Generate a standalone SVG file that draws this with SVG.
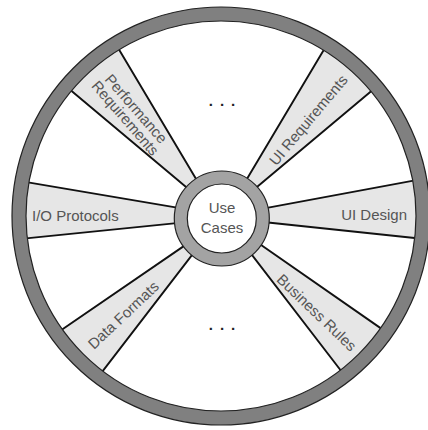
<svg xmlns="http://www.w3.org/2000/svg" width="428" height="430" viewBox="0 0 428 430">
<style>
.spoke{fill:#e6e6e6;stroke:#111;stroke-width:1.9;stroke-linejoin:round}
.lbl{font-family:"Liberation Sans",Arial,sans-serif;font-size:15px;fill:#555}
.edge{fill:none;stroke:#222;stroke-width:1.2}
.dots{font-family:"Liberation Sans",Arial,sans-serif;font-size:15px;font-weight:bold;fill:#222;letter-spacing:7px}
</style>
<rect x="0" y="0" width="428" height="430" fill="#ffffff"/>
<g id="spoke-io-protocols">
<polygon class="spoke" points="22.1,181.4 188.8,209.6 188.9,221.9 18.7,239.1"/>
<text class="lbl" x="32" y="220.5">I/O Protocols</text>
</g>
<g id="spoke-ui-design">
<polygon class="spoke" points="421.6,179.1 256.2,209.9 256.1,221.2 421.7,238.8"/>
<text class="lbl" x="407" y="220" text-anchor="end">UI Design</text>
</g>
<g id="spoke-ui-requirements">
<polygon class="spoke" points="325.8,46.5 241.1,188.7 248.6,194 375.3,87.8"/>
<text class="lbl" text-anchor="middle" transform="translate(308.3,120) rotate(-50)" y="5.3">UI Requirements</text>
</g>
<g id="spoke-performance-requirements">
<polygon class="spoke" points="117.2,46.5 201.9,188.7 194.4,194 67.7,87.8"/>
<text class="lbl" text-anchor="middle" transform="translate(130.8,113.3) rotate(49)"><tspan x="0" y="-1.9">Performance</tspan><tspan x="0" y="12.5">Requirements</tspan></text>
</g>
<g id="spoke-data-formats">
<polygon class="spoke" points="58.1,332.2 189.6,242.1 197.5,247.9 99.6,375.2"/>
<text class="lbl" text-anchor="middle" transform="translate(123.3,315) rotate(-43.3)" y="5.3">Data Formats</text>
</g>
<g id="spoke-business-rules">
<polygon class="spoke" points="345.4,376.5 244.8,245.6 256.8,242 387.4,332.9"/>
<text class="lbl" text-anchor="middle" transform="translate(316.7,312.5) rotate(43.8)" y="5.3">Business Rules</text>
</g>
<g id="rim">
<circle cx="221" cy="216" r="202" fill="none" stroke="#808080" stroke-width="14"/>
<circle class="edge" cx="221" cy="216" r="209"/>
<circle class="edge" cx="221" cy="216" r="195"/>
</g>
<g id="more-top">
<text class="dots" x="225.5" y="106" text-anchor="middle">...</text>
</g>
<g id="more-bottom">
<text class="dots" x="225.5" y="330" text-anchor="middle">...</text>
</g>
<g id="use-cases">
<circle cx="221.8" cy="218.5" r="47.5" fill="#a3a3a3" stroke="#222" stroke-width="1.2"/>
<circle cx="221.8" cy="218.5" r="34.5" fill="#ffffff" stroke="#222" stroke-width="1.2"/>
<text class="lbl" x="222" y="213" text-anchor="middle">Use</text>
<text class="lbl" x="222" y="233" text-anchor="middle">Cases</text>
</g>
</svg>
